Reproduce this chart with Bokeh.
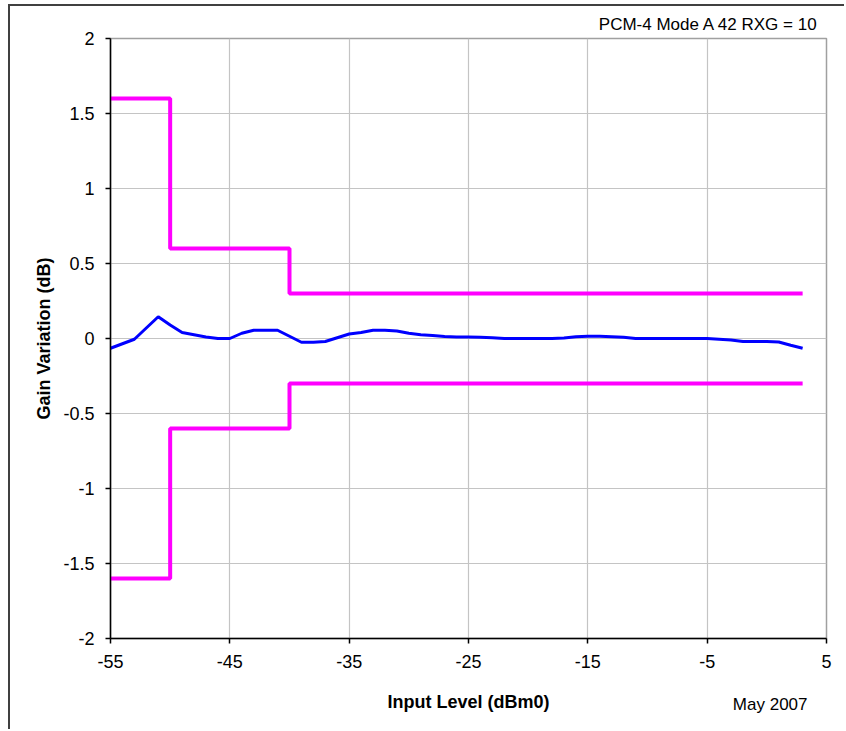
from bokeh.plotting import figure
from bokeh.models import Range1d, FixedTicker, Title
from bokeh.embed import file_html
from bokeh.resources import INLINE

# ---- data ----
input_level = [-55, -54, -53, -52, -51, -50, -49, -48, -47, -46, -45, -44, -43, -42, -41,
               -40, -39, -38, -37, -36, -35, -34, -33, -32, -31, -30, -29, -28, -27, -26,
               -25, -24, -23, -22, -21, -20, -19, -18, -17, -16, -15, -14, -13, -12, -11,
               -10, -9, -8, -7, -6, -5, -4, -3, -2, -1, 0, 1, 2, 3]
gain_variation = [-0.065, -0.035, -0.005, 0.07, 0.145, 0.09, 0.04, 0.025, 0.01, 0.0, 0.0,
                  0.035, 0.055, 0.055, 0.055, 0.015, -0.025, -0.025, -0.02, 0.005, 0.03,
                  0.04, 0.055, 0.055, 0.05, 0.035, 0.025, 0.02, 0.013, 0.01, 0.01, 0.008,
                  0.005, 0.0, 0.0, 0.0, 0.0, 0.0, 0.003, 0.012, 0.015, 0.015, 0.012, 0.008,
                  0.0, 0.0, 0.0, 0.0, 0.0, 0.0, 0.0, -0.005, -0.01, -0.02, -0.02, -0.02,
                  -0.023, -0.045, -0.065]

mask_x = [-55, -50, -40, 3]
mask_upper = [1.6, 0.6, 0.3, 0.3]
mask_lower = [-1.6, -0.6, -0.3, -0.3]

x_ticks = [-55, -45, -35, -25, -15, -5, 5]
y_ticks = [-2, -1.5, -1, -0.5, 0, 0.5, 1, 1.5, 2]
y_tick_labels = ["-2", "-1.5", "-1", "-0.5", "0", "0.5", "1", "1.5", "2"]

title_text = "PCM-4 Mode A 42 RXG = 10"
date_text = "May 2007"

FONT = "Liberation Sans"

p = figure(width=836, height=725, output_backend="svg", toolbar_location=None,
           x_range=Range1d(-55, 5), y_range=Range1d(-2, 2),
           min_border_left=100, min_border_right=20, min_border_top=32, min_border_bottom=93)
p.margin = (4, 0, 0, 8)
p.styles = {"border-left": "2px solid #404040", "border-top": "2px solid #404040"}

p.background_fill_color = "white"
p.border_fill_color = "white"
p.outline_line_color = "#a0a0a0"
p.outline_line_width = 1.5

p.xaxis.ticker = FixedTicker(ticks=x_ticks)
p.yaxis.ticker = FixedTicker(ticks=y_ticks)
p.yaxis.major_label_overrides = {t: l for t, l in zip(y_ticks, y_tick_labels)}
p.xaxis.major_label_overrides = {t: str(t) for t in x_ticks}

for ax in (p.xaxis, p.yaxis):
    ax.axis_line_color = "black"
    ax.axis_line_width = 1.5
    ax.major_tick_line_color = "black"
    ax.major_tick_line_width = 1.5
    ax.major_tick_in = 0
    ax.major_tick_out = 5
    ax.minor_tick_line_color = None
    ax.major_label_text_font = FONT
    ax.major_label_text_font_size = "18px"
    ax.major_label_text_color = "black"
    ax.axis_label_text_font = FONT
    ax.axis_label_text_font_size = "18px"
    ax.axis_label_text_font_style = "bold"
    ax.axis_label_text_color = "black"

p.xaxis.major_label_standoff = 11
p.yaxis.major_label_standoff = 11
p.xaxis.axis_label = "Input Level (dBm0)"
p.yaxis.axis_label = "Gain Variation (dB)"
p.xaxis.axis_label_standoff = 21
p.yaxis.axis_label_standoff = 6

p.xgrid.grid_line_color = "#c4c4c4"
p.ygrid.grid_line_color = "#c4c4c4"
p.xgrid.grid_line_width = 1.2
p.ygrid.grid_line_width = 1.2

p.step(mask_x, mask_upper, mode="after", line_color="#ff00ff", line_width=4)
p.step(mask_x, mask_lower, mode="after", line_color="#ff00ff", line_width=4)
p.line(input_level, gain_variation, line_color="#0000ff", line_width=3)

p.add_layout(Title(text=title_text, align="right", offset=8, standoff=10,
                   text_font=FONT, text_font_size="17px", text_font_style="normal",
                   text_color="black"), "above")
p.add_layout(Title(text=date_text, align="right", offset=19, standoff=-40,
                   vertical_align="top",
                   text_font=FONT, text_font_size="17px", text_font_style="normal",
                   text_color="black"), "below")

open("out.html", "w").write(file_html(p, INLINE))
